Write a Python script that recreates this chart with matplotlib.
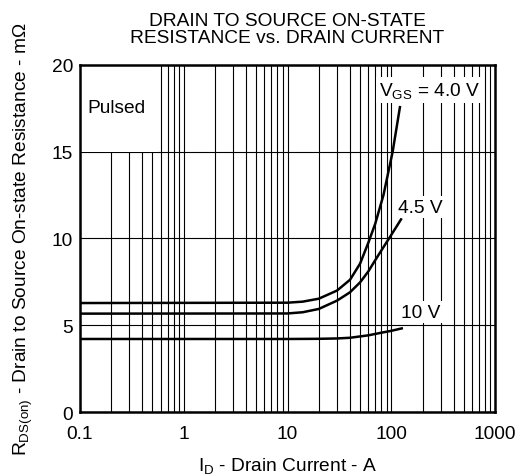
import numpy as np
import matplotlib.pyplot as plt
from matplotlib.patches import Rectangle
from matplotlib.ticker import LogLocator, FixedLocator

plt.rcParams['font.family'] = ['Liberation Sans', 'DejaVu Sans']
plt.rcParams['mathtext.fontset'] = 'custom'
plt.rcParams['mathtext.rm'] = 'Liberation Sans'
plt.rcParams['mathtext.it'] = 'Liberation Sans'

# values
id_4v0 = [0.1, 10, 14, 20, 30, 40, 50, 60, 70, 84, 103, 121]
r_4v0 = [6.28, 6.3, 6.36, 6.53, 7.0, 7.62, 8.55, 9.75, 10.85, 12.5, 15.0, 17.56]

id_4v5 = [0.1, 10, 14, 20, 30, 40, 50, 60, 70, 80, 95, 110, 124]
r_4v5 = [5.67, 5.68, 5.75, 5.94, 6.42, 6.9, 7.47, 8.1, 8.75, 9.3, 10.0, 10.6, 11.1]

id_10v = [0.1, 10, 20, 30, 40, 60, 80, 100, 126]
r_10v = [4.21, 4.21, 4.22, 4.24, 4.28, 4.42, 4.57, 4.68, 4.82]

xticks = [0.1, 1, 10, 100, 1000]
xticklabels = ['0.1', '1', '10', '100', '1000']
yticks = [0, 5, 10, 15, 20]

fs = 13.8

fig = plt.figure(figsize=(5.19, 4.77), dpi=100)
ax = fig.add_axes([0.154, 0.134, 0.800, 0.728])

ax.set_xscale('log')
ax.set_xlim(0.1, 1000)
ax.set_ylim(0, 20)

ax.xaxis.set_major_locator(FixedLocator(xticks))
ax.xaxis.set_minor_locator(LogLocator(base=10, subs=np.arange(2, 10)))
ax.set_xticks(xticks)
ax.set_xticklabels(xticklabels)
ax.set_yticks(yticks)
ax.tick_params(which='both', length=0, labelsize=fs)
ax.tick_params(axis='x', pad=9)
ax.tick_params(axis='y', pad=5)
ax.xaxis.set_minor_formatter(plt.NullFormatter())

ax.grid(True, which='both', axis='x', color='black', linewidth=0.8)
ax.grid(True, which='major', axis='y', color='black', linewidth=0.8)
for s in ax.spines.values():
    s.set_linewidth(1.8)

# white area behind "Pulsed"
ax.add_patch(Rectangle((0.1, 15), 0.47, 5, facecolor='white', edgecolor='none', zorder=2))

ax.plot(id_4v0, r_4v0, color='black', linewidth=1.8, zorder=3)
ax.plot(id_4v5, r_4v5, color='black', linewidth=1.8, zorder=3)
ax.plot(id_10v, r_10v, color='black', linewidth=1.8, zorder=3)

box = dict(facecolor='white', edgecolor='none', pad=2)
ax.text(0.118, 17.55, 'Pulsed', fontsize=fs, va='center', ha='left', zorder=4)
ax.text(232, 18.55, r'$\mathregular{V_{GS}}$ = 4.0 V', fontsize=fs, va='center', ha='center', bbox=box, zorder=4)
ax.text(190, 11.8, '4.5 V', fontsize=fs, va='center', ha='center', bbox=box, zorder=4)
ax.text(190, 5.75, '10 V', fontsize=fs, va='center', ha='center', bbox=box, zorder=4)

ax.set_xlabel(r'$\mathregular{I_D}$ - Drain Current - A', fontsize=fs, labelpad=10)
ax.set_ylabel(r'$\mathregular{R_{DS(on)}}$ - Drain to Source On-state Resistance - m$\Omega$', fontsize=fs, labelpad=12)
fig.text(0.553, 0.937, 'DRAIN TO SOURCE ON-STATE\nRESISTANCE vs. DRAIN CURRENT',
         fontsize=fs, ha='center', va='center', linespacing=0.95)

fig.savefig('out.png', dpi=100)
